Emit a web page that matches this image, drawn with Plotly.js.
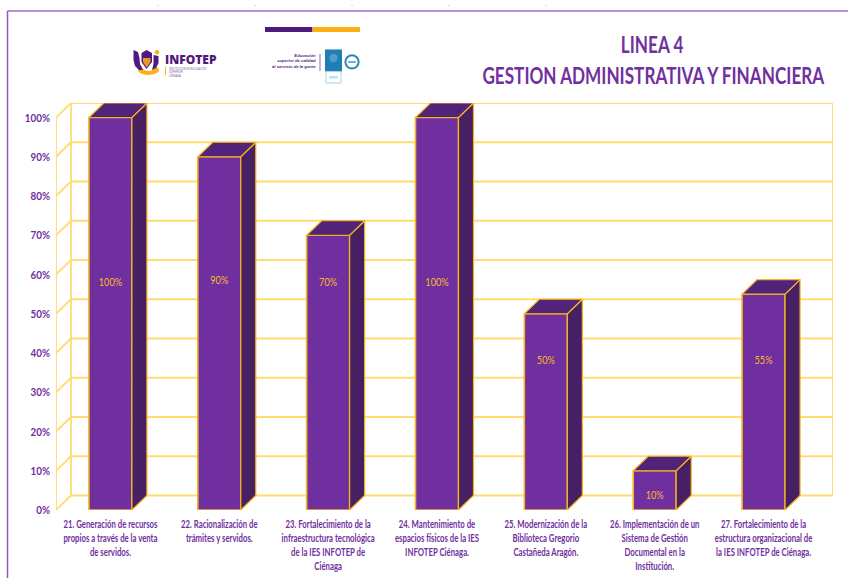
<!DOCTYPE html>
<html>
<head>
<meta charset="utf-8">
<script src="https://cdn.plot.ly/plotly-3.0.1.min.js"></script>
<style>
html,body{margin:0;padding:0;background:#fff;}
#chart{width:848px;height:578px;}
</style>
</head>
<body>
<div id="chart"></div>
<script>
const categoryLabels = [
  "21. Generación de recursos<br>propios a través de la venta<br>de servidos.",
  "22. Racionalización de<br>trámites y servidos.",
  "23. Fortalecimiento de la<br>infraestructura tecnológica<br>de la IES INFOTEP de<br>Ciénaga",
  "24. Mantenimiento de<br>espacios físicos de la IES<br>INFOTEP Ciénaga.",
  "25. Modernización de la<br>Biblioteca Gregorio<br>Castañeda Aragón.",
  "26. Implementación de un<br>Sistema de Gestión<br>Documental en la<br>Institución.",
  "27. Fortalecimiento de la<br>estructura organizacional de<br>la IES INFOTEP de Ciénaga."
];
const percentValues = [100, 90, 70, 100, 50, 10, 55];
const labelHeights = [57.8, 58.3, 57.8, 57.8, 37.9, 3.6, 37.9];
const percentTicks = [0, 10, 20, 30, 40, 50, 60, 70, 80, 90, 100];

const W = 848, H = 578;
const m = {l: 56, r: 15, t: 103, b: 68.4};
const pxPerCat = 108.8, pxPerPct = 3.921;
const dx = 15 / pxPerCat, dy = 14.5 / pxPerPct;
const barW = 0.395;
const xMin = -0.5, xMax = 6.5 + dx, yMax = 100 + dy;
const idx = percentValues.map((_, i) => i);

const PURPLE = "#702f9e", SIDE = "#472064", TOP = "#512379", EDGE = "#f6b420", GRID = "#ffdc72", TXT = "#7030a0";
const DARK = "#4f1a7e", GOLD = "#fbb016";

function polys(fn) {
  const xs = [], ys = [];
  idx.forEach(i => {
    fn(i, percentValues[i]).forEach(p => { xs.push(p[0]); ys.push(p[1]); });
    xs.push(null); ys.push(null);
  });
  return {x: xs, y: ys};
}
const side = polys((i, v) => {
  const r = i + barW / 2;
  return [[r, 0], [r + dx, dy], [r + dx, v + dy], [r, v], [r, 0]];
});
const top_ = polys((i, v) => {
  const l = i - barW / 2, r = i + barW / 2;
  return [[l, v], [l + dx, v + dy], [r + dx, v + dy], [r, v], [l, v]];
});

const traces = [
  {type: "bar", x: idx, y: percentValues, width: barW, cliponaxis: false,
   marker: {color: PURPLE, line: {color: EDGE, width: 1.6}}, hoverinfo: "skip"},
  {type: "scatter", mode: "lines", x: side.x, y: side.y, fill: "toself", fillcolor: SIDE, cliponaxis: false,
   line: {color: EDGE, width: 1.2}, hoverinfo: "skip"},
  {type: "scatter", mode: "lines", x: top_.x, y: top_.y, fill: "toself", fillcolor: TOP, cliponaxis: false,
   line: {color: EDGE, width: 1.2}, hoverinfo: "skip"},
  {type: "scatter", mode: "text", x: idx, y: labelHeights, cliponaxis: false,
   text: percentValues.map(v => v + "%"), textposition: "middle center",
   textfont: {family: "Lato", size: 11.5, color: "#fbb92a"}, hoverinfo: "skip"}
];

const shapes = [];
function dataLine(x0, y0, x1, y1) {
  shapes.push({type: "line", xref: "x", yref: "y", x0, y0, x1, y1, layer: "below",
    line: {color: GRID, width: 1.8}});
}
percentTicks.forEach(t => {
  dataLine(xMin + dx, t + dy, xMax, t + dy);
  dataLine(xMin, t, xMin + dx, t + dy);
});
dataLine(xMin + dx, dy, xMin + dx, yMax);
dataLine(xMin, 0, xMin, 100);
dataLine(xMax, dy, xMax, yMax);

// Page furniture, placed in page pixels
const plotW = W - m.l - m.r, plotH = H - m.t - m.b;
const px = x => (x - m.l) / plotW;
const py = y => 1 - (y - m.t) / plotH;
function rect(x0, y0, x1, y1, fill, line) {
  shapes.push({type: "rect", xref: "paper", yref: "paper", x0: px(x0), y0: py(y0), x1: px(x1), y1: py(y1),
    fillcolor: fill, line: line ? {color: line, width: 1} : {width: 0}});
}
function pxLine(x0, y0, x1, y1, color, width) {
  shapes.push({type: "line", xref: "paper", yref: "paper", x0: px(x0), y0: py(y0), x1: px(x1), y1: py(y1),
    line: {color, width}});
}
function circle(cx, cy, r, fill, line, w) {
  shapes.push({type: "circle", xref: "paper", yref: "paper", x0: px(cx - r), y0: py(cy - r), x1: px(cx + r), y1: py(cy + r),
    fillcolor: fill, line: line ? {color: line, width: w || 1} : {width: 0}});
}
function ellipse(x0, y0, x1, y1, fill) {
  shapes.push({type: "circle", xref: "paper", yref: "paper", x0: px(x0), y0: py(y0), x1: px(x1), y1: py(y1),
    fillcolor: fill, line: {width: 0}});
}
function path(pts, fill) {
  const d = pts.map((p, i) => (i ? "L" : "M") + px(p[0]) + "," + py(p[1])).join(" ") + " Z";
  shapes.push({type: "path", xref: "paper", yref: "paper", path: d, fillcolor: fill, line: {width: 0}});
}
// frame
pxLine(7.5, 11, 848, 11, "#9a6fc8", 1.5);
pxLine(7.5, 11, 7.5, 578, "#8a5cc0", 1.5);
[158, 255, 352, 449, 546].forEach(x => pxLine(x, 5, x, 6.2, "#bbbbbb", 1));
// colour strip
rect(265, 27, 312.5, 32, DARK);
rect(312.5, 27, 360, 32, GOLD);
// INFOTEP logo
ellipse(138, 65, 159, 75, GOLD);
ellipse(142, 63, 155, 71, "#ffffff");
path([[133.5, 50], [138, 52], [139.5, 58], [140, 64], [143, 70], [139, 70], [135, 66], [133.5, 60]], DARK);
path([[153.5, 55], [158.5, 56], [158.5, 63], [156, 68], [152, 70], [153.5, 64]], DARK);
path([[141.5, 53], [146.5, 50], [152, 53], [152, 62], [146.5, 69], [141.5, 62]], DARK);
path([[143, 58], [150.5, 58], [150.5, 62], [146.7, 67.5], [143, 62]], "#e9962a");
circle(157, 52.3, 2.2, GOLD);
rect(165, 66.5, 165.9, 75, GOLD);
// ISO block
pxLine(320, 54, 320, 71, "#8a6fb0", 1);
rect(325, 49.5, 342, 71.5, "#1f7fb5");
circle(333.5, 58, 4.2, "#4f9fca");
rect(326, 71.5, 341, 83, "#ffffff", "#a8d3ea");
rect(329, 76, 338, 78.5, "#bfe0f0");
circle(352, 62, 6.6, "#ffffff", "#2a86b8", 2);
rect(348, 61, 356, 63, "#6fb0d4");

const annotations = [
  {text: "LINEA 4", x: px(651.5), y: py(45), font: {family: "Lato", size: 22, color: TXT, weight: 700}},
  {text: "GESTION ADMINISTRATIVA Y FINANCIERA", x: px(653.5), y: py(76), font: {family: "Lato", size: 22, color: TXT, weight: 700}},
  {text: "INFOTEP", x: px(191), y: py(59.5), font: {family: "'Open Sans'", size: 12, color: DARK, weight: 800}},
  {text: "Educación<br>superior de calidad<br>al servicio de la gente", x: px(317.5), y: py(61), xanchor: "right", align: "right",
   font: {family: "'Liberation Sans'", size: 4.2, color: DARK, weight: 700, style: "italic"}},
  {text: "INSTITUCIÓN DE EDUCACIÓN<br>SUPERIOR<br>CIÉNAGA", x: px(167), y: py(72.5), xanchor: "left", align: "left",
   font: {family: "'Liberation Sans'", size: 2.6, color: "#7a5aa0"}}
].map(a => Object.assign({xref: "paper", yref: "paper", showarrow: false, yanchor: "middle", xanchor: "center"}, a));

const layout = {
  width: W, height: H, autosize: false,
  margin: m,
  paper_bgcolor: "#ffffff", plot_bgcolor: "rgba(0,0,0,0)",
  showlegend: false,
  xaxis: {
    range: [xMin, xMax], tickmode: "array", tickvals: idx, ticktext: categoryLabels,
    tickangle: 0, showgrid: false, zeroline: false, showline: false, ticks: "", ticklen: 0,
    ticklabelstandoff: 6,
    tickfont: {family: "Lato", size: 10.8, color: TXT, weight: 700}
  },
  yaxis: {
    range: [0, yMax], tickmode: "array", tickvals: percentTicks,
    ticktext: percentTicks.map(t => t + "%"), showgrid: false, zeroline: false, showline: false,
    ticks: "", ticklen: 0, ticklabelstandoff: 5,
    tickfont: {family: "Lato", size: 12, color: TXT, weight: 700}
  },
  shapes, annotations
};

// The reference's lettering is a condensed face; none is installed, so narrow the real text horizontally.
function condense(el, f, anchor) {
  const b = el.getBBox();
  const c = anchor === "right" ? b.x + b.width : b.x + b.width / 2;
  const t = el.getAttribute("transform") || "";
  el.setAttribute("transform", `${t} translate(${c} 0) scale(${f} 1) translate(${-c} 0)`);
}
Plotly.newPlot("chart", traces, layout, {displayModeBar: false, staticPlot: true}).then(gd => {
  gd.querySelectorAll(".xtick text").forEach(e => condense(e, 0.72));
  gd.querySelectorAll(".ytick text").forEach(e => condense(e, 0.82, "right"));
  gd.querySelectorAll(".textpoint text").forEach(e => condense(e, 0.8));
  const anns = gd.querySelectorAll(".annotation-text");
  if (anns[0]) condense(anns[0], 0.78);
  if (anns[1]) condense(anns[1], 0.78);
});
</script>
</body>
</html>
